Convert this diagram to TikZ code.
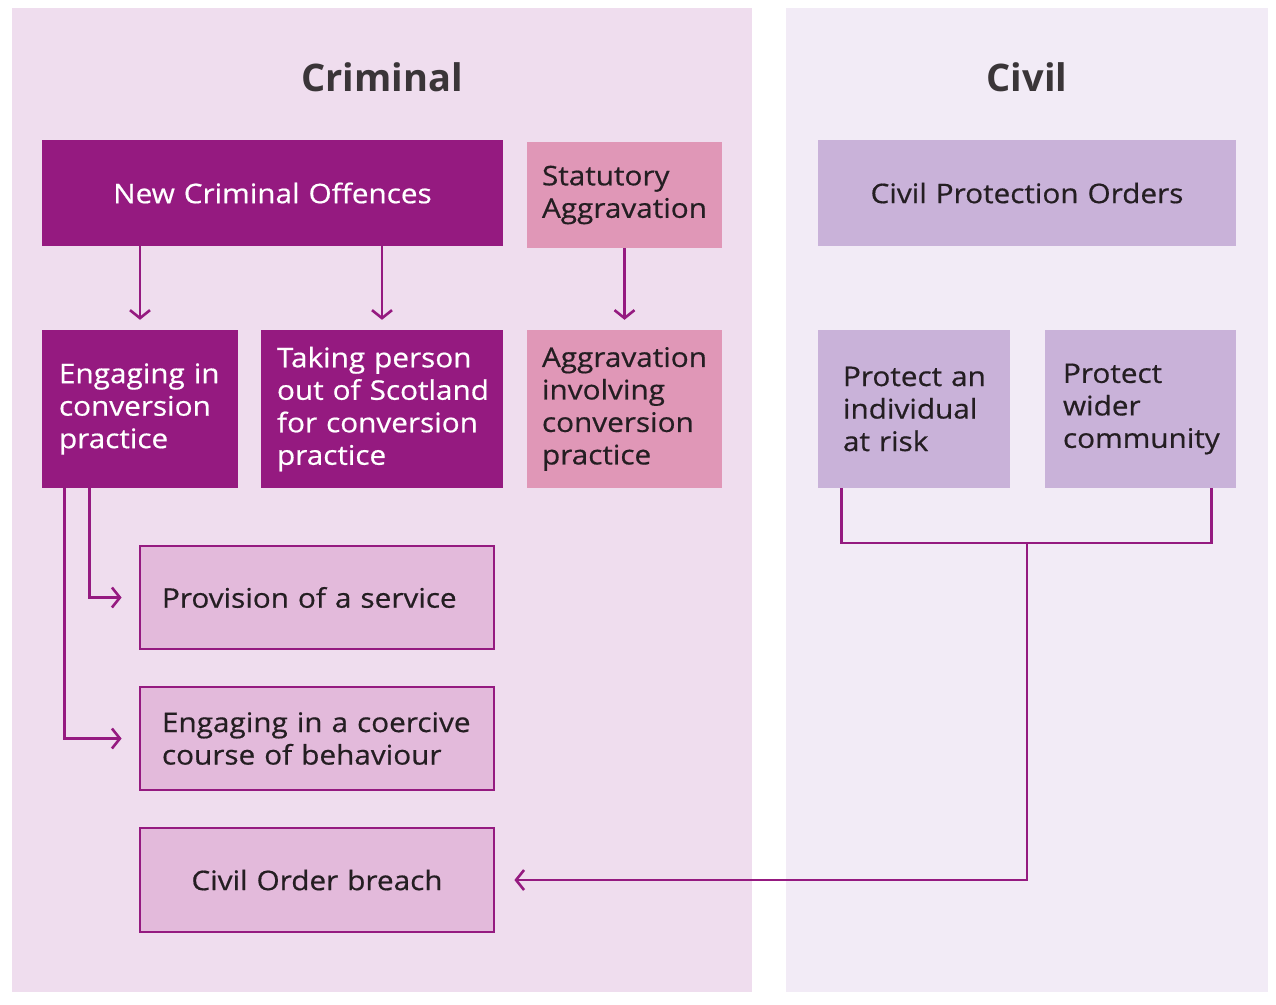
\documentclass[tikz,border=0pt]{standalone}
\usepackage{fontspec}
\setmainfont{Open Sans}
\newfontfamily\boxfont{Open Sans}[FakeStretch=1.1,FakeBold=0.6]
\usetikzlibrary{arrows.meta}
\definecolor{plum}{HTML}{951A80}
\definecolor{rosebox}{HTML}{E097B7}
\definecolor{lavbox}{HTML}{C9B2D9}
\definecolor{pinkbox}{HTML}{E3BADB}
\definecolor{crimpanel}{HTML}{EFDDEE}
\definecolor{civpanel}{HTML}{F2EBF6}
\definecolor{ink}{HTML}{241E22}
\newcommand\nohyph{\hyphenpenalty=10000\relax\exhyphenpenalty=10000\relax}
\begin{document}
\begin{tikzpicture}[x=1pt,y=-1pt,
  box/.style={rectangle, inner ysep=0pt, align=left, text=ink,
    font=\boxfont\fontsize{27}{32.5}\selectfont, execute at begin node=\nohyph},
  darkbox/.style={box, fill=plum, text=white},
  rosebx/.style={box, fill=rosebox},
  lavbx/.style={box, fill=lavbox},
  pinkbx/.style={box, fill=pinkbox, draw=plum, line width=2.8pt},
  title/.style={font=\fontsize{38}{44}\selectfont\bfseries, text=ink!90!white},
  link/.style={draw=plum, line width=2.8pt},
  arr/.style={link, -{Straight Barb[length=8pt,width=20pt,line width=2.6pt]}}
]
\useasboundingbox (0,0) rectangle (1276,1004);
\fill[white] (0,0) rectangle (1276,1004);
% panels
\fill[crimpanel] (12,8) rectangle (752,992);
\fill[civpanel] (786,8) rectangle (1268,992);
% titles
\node[title] (tcrim) at (382,77) {Criminal};
\node[title] (tciv) at (1027,77) {Civil};
% top row
\node[darkbox, align=center, minimum width=461pt, minimum height=106pt, inner xsep=10pt, text width=441pt] (nco) at (272.5,193) {New Criminal Offences};
\node[rosebx, minimum width=195pt, minimum height=106pt, inner xsep=15pt, text width=165pt] (sa) at (624.5,195) {Statutory\\Aggravation};
\node[lavbx, align=center, minimum width=418pt, minimum height=106pt, inner xsep=10pt, text width=398pt] (cpo) at (1027,193) {Civil Protection Orders};
% second row
\node[darkbox, minimum width=196pt, minimum height=158pt, inner xsep=17pt, text width=162pt] (eng) at (140,409) {Engaging~in\\conversion\\practice};
\node[darkbox, minimum width=242pt, minimum height=158pt, inner xsep=16pt, text width=210pt] (tak) at (382,409) {Taking~person\\out~of~Scotland\\for~conversion\\practice};
\node[rosebx, minimum width=195pt, minimum height=158pt, inner xsep=15pt, text width=165pt] (agg) at (624.5,409) {Aggravation\\involving\\conversion\\practice};
\node[lavbx, minimum width=192pt, minimum height=158pt, inner xsep=25pt, text width=142pt] (pin) at (914,409) {Protect~an\\individual\\at~risk};
\node[lavbx, minimum width=191pt, minimum height=158pt, inner xsep=18pt, text width=155pt] (pwc) at (1140.5,409) {Protect\\wider\\community};
% lower boxes
\node[pinkbx, minimum width=354pt, minimum height=103pt, inner xsep=22pt, text width=310pt] (prov) at (317,597.5) {Provision~of~a~service};
\node[pinkbx, minimum width=354pt, minimum height=103pt, inner xsep=22pt, text width=310pt] (coer) at (317,738.5) {Engaging~in~a~coercive\\course~of~behaviour};
\node[pinkbx, align=center, minimum width=354pt, minimum height=104pt, inner xsep=22pt, text width=310pt] (cob) at (317,880) {Civil Order breach};
% arrows
\draw[arr, shorten >=10pt] (nco.south -| eng.north) -- (eng.north);
\draw[arr, shorten >=10pt] (nco.south -| tak.north) -- (tak.north);
\draw[arr, shorten >=10pt] (sa.south) -- (agg.north);
\draw[arr, shorten >=17pt] ([xshift=48pt]eng.south west) |- (prov.west);
\draw[arr, shorten >=17pt] ([xshift=23pt]eng.south west) |- (coer.west);
\coordinate (junc) at (1027,543);
\draw[link] ([xshift=24pt]pin.south west) |- (junc) -| ([xshift=-25pt]pwc.south east);
\draw[arr, shorten >=19pt] (junc) |- (cob.east);
\end{tikzpicture}
\end{document}
